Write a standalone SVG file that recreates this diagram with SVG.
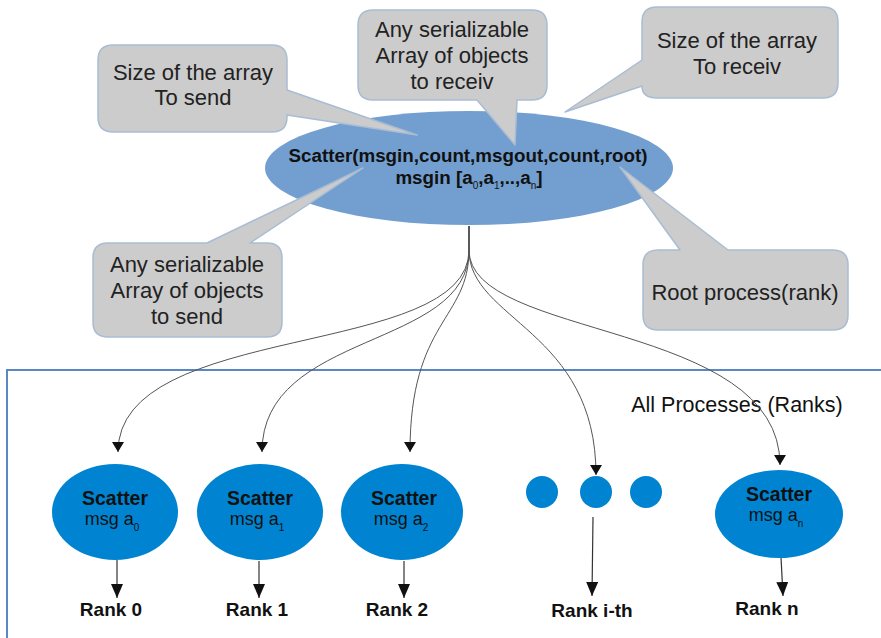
<svg xmlns="http://www.w3.org/2000/svg" width="881" height="638" viewBox="0 0 881 638">
  <defs>
    <marker id="arrow" viewBox="0 0 10 12" refX="10" refY="6" markerWidth="10" markerHeight="12" markerUnits="userSpaceOnUse" orient="auto">
      <path d="M0,0 L10,6 L0,12 Z" fill="#111"/>
    </marker>
    <marker id="arrow-big" viewBox="0 0 14 12" refX="14" refY="6" markerWidth="14" markerHeight="12" markerUnits="userSpaceOnUse" orient="auto">
      <path d="M0,0 L14,6 L0,12 Z" fill="#111"/>
    </marker>
    <style>
      .callout { fill: #cccccc; stroke: #a9bcd3; stroke-width: 1.5; stroke-linejoin: round; }
      .callout-text { font-family: "Liberation Sans", Arial, sans-serif; font-size: 22px; fill: #222; text-anchor: middle; }
      .root-shape { fill: #729fcf; }
      .rank-shape { fill: #0084d1; }
      .bold { font-family: "Liberation Sans", Arial, sans-serif; font-weight: bold; fill: #111; text-anchor: middle; }
      .plain { font-family: "Liberation Sans", Arial, sans-serif; fill: #111; text-anchor: middle; }
      .fan { fill: none; stroke: #555; stroke-width: 1; marker-end: url(#arrow); }
      .drop { fill: none; stroke: #333; stroke-width: 1.2; marker-end: url(#arrow-big); }
      .frame { fill: none; stroke: #5a88c6; stroke-width: 2; }
    </style>
  </defs>

  <!-- frame around the process area -->
  <path class="frame" d="M7,640 V370 H883"/>
  <text class="plain" x="737" y="412" font-size="21.5" fill="#222">All Processes (Ranks)</text>

  <!-- root scatter node -->
  <g id="root-node">
    <ellipse class="root-shape" cx="469" cy="168" rx="204" ry="57"/>
  </g>

  <!-- callouts -->
  <g id="callout-send-count">
    <path class="callout" d="M113,45 H272 Q287,45 287,60 V90 L417,135 L287,115 V117 Q287,132 272,132 H113 Q98,132 98,117 V60 Q98,45 113,45 Z"/>
    <text class="callout-text" x="193" y="80">Size of the array</text>
    <text class="callout-text" x="193" y="105">To send</text>
  </g>
  <g id="callout-recv-buffer">
    <path class="callout" d="M373,10 H532 Q547,10 547,25 V85 Q547,100 532,100 H517 L515,145 L477,100 H373 Q358,100 358,85 V25 Q358,10 373,10 Z"/>
    <text class="callout-text" x="452" y="37">Any serializable</text>
    <text class="callout-text" x="452" y="63">Array of objects</text>
    <text class="callout-text" x="452" y="89">to receiv</text>
  </g>
  <g id="callout-recv-count">
    <path class="callout" d="M657,7 H823 Q838,7 838,22 V83 Q838,98 823,98 H657 Q642,98 642,86 L565,112 L642,60 V22 Q642,7 657,7 Z"/>
    <text class="callout-text" x="737" y="48">Size of the array</text>
    <text class="callout-text" x="737" y="74">To receiv</text>
  </g>
  <g id="callout-send-buffer">
    <path class="callout" d="M108,243 H207 L363,168 L250,243 H267 Q282,243 282,258 V322 Q282,337 267,337 H108 Q93,337 93,322 V258 Q93,243 108,243 Z"/>
    <text class="callout-text" x="187" y="272">Any serializable</text>
    <text class="callout-text" x="187" y="298">Array of objects</text>
    <text class="callout-text" x="187" y="324">to send</text>
  </g>
  <g id="callout-root">
    <path class="callout" d="M658,250 H680 L620,167 L728,250 H833 Q848,250 848,265 V315 Q848,330 833,330 H658 Q643,330 643,315 V265 Q643,250 658,250 Z"/>
    <text class="callout-text" x="745" y="300">Root process(rank)</text>
  </g>

  <!-- root node label (drawn above the callout tails) -->
  <g id="root-label">
    <text class="bold" x="468" y="162" font-size="18.8">Scatter(msgin,count,msgout,count,root)</text>
    <text class="bold" x="469" y="184" font-size="18.8">msgin [a<tspan dy="5" font-size="10" font-weight="normal">0</tspan><tspan dy="-5">,a</tspan><tspan dy="5" font-size="10" font-weight="normal">1</tspan><tspan dy="-5">,..,a</tspan><tspan dy="5" font-size="10" font-weight="normal">n</tspan><tspan dy="-5">]</tspan></text>
  </g>

  <!-- connectors -->
  <g id="connectors">
    <path class="fan" d="M469,226 L469,250 C469,360 118,320 118,452"/>
    <path class="fan" d="M469,226 L469,250 C469,350 262,330 262,452"/>
    <path class="fan" d="M469,226 L469,250 C469,320 410,320 410,452"/>
    <path class="fan" d="M469,226 L469,250 C469,320 596,330 596,475"/>
    <path class="fan" d="M469,226 L469,250 C469,340 780,320 780,465"/>
    <path class="drop" d="M117,560 L117,598"/>
    <path class="drop" d="M259,561 L259,598"/>
    <path class="drop" d="M404,561 L404,598"/>
    <path class="drop" d="M593,517 L592,596"/>
    <path class="drop" d="M781,557 L783,596"/>
  </g>

  <!-- rank nodes -->
  <g id="rank-0">
    <ellipse class="rank-shape" cx="115" cy="512" rx="63" ry="48"/>
    <text class="bold" x="115" y="505" font-size="19.5">Scatter</text>
    <text class="plain" x="112" y="525" font-size="18">msg a<tspan dy="6" font-size="10">0</tspan></text>
  </g>
  <g id="rank-1">
    <ellipse class="rank-shape" cx="260" cy="512" rx="63" ry="48"/>
    <text class="bold" x="260" y="505" font-size="19.5">Scatter</text>
    <text class="plain" x="257" y="525" font-size="18">msg a<tspan dy="6" font-size="10">1</tspan></text>
  </g>
  <g id="rank-2">
    <ellipse class="rank-shape" cx="402" cy="512" rx="61" ry="48"/>
    <text class="bold" x="404" y="505" font-size="19.5">Scatter</text>
    <text class="plain" x="401" y="525" font-size="18">msg a<tspan dy="6" font-size="10">2</tspan></text>
  </g>
  <g id="rank-i">
    <circle class="rank-shape" cx="542" cy="492" r="16"/>
    <circle class="rank-shape" cx="596" cy="492" r="16"/>
    <circle class="rank-shape" cx="646" cy="492" r="16"/>
  </g>
  <g id="rank-n">
    <ellipse class="rank-shape" cx="779" cy="514" rx="64" ry="44"/>
    <text class="bold" x="779" y="501" font-size="19.5">Scatter</text>
    <text class="plain" x="776" y="521" font-size="18">msg a<tspan dy="6" font-size="10">n</tspan></text>
  </g>

  <!-- rank labels -->
  <g id="rank-labels">
    <text class="bold" x="111" y="616" font-size="19">Rank 0</text>
    <text class="bold" x="257" y="616" font-size="19">Rank 1</text>
    <text class="bold" x="397" y="616" font-size="19">Rank 2</text>
    <text class="bold" x="592" y="617" font-size="19">Rank i-th</text>
    <text class="bold" x="767" y="615" font-size="19">Rank n</text>
  </g>
</svg>
